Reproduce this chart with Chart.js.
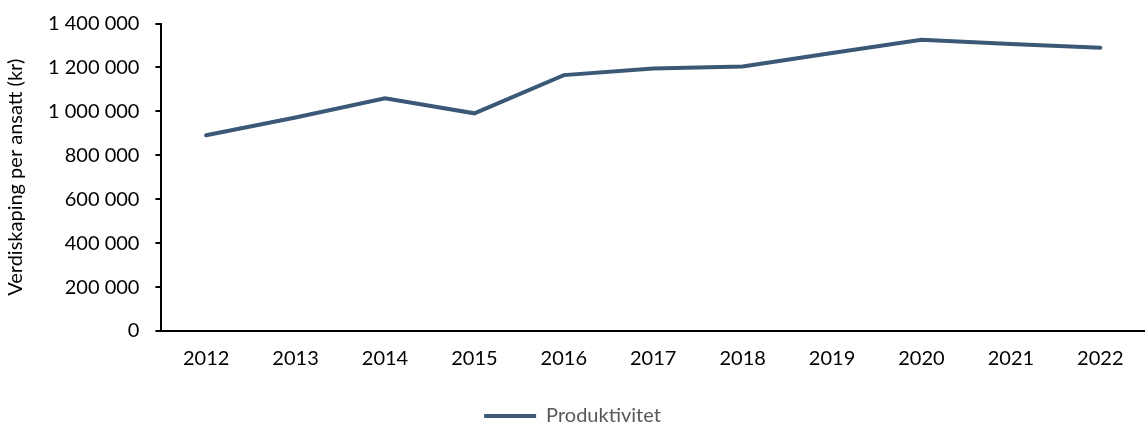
<!DOCTYPE html>
<html>
<head>
<meta charset="utf-8">
<script src="https://cdn.jsdelivr.net/npm/chart.js@4"></script>
<style>
  html, body { margin: 0; padding: 0; background: #fff; width: 1145px; height: 423px; overflow: hidden; }
  #wrap { width: 1145px; height: 436px; }
</style>
</head>
<body>
<div id="wrap"><canvas id="myChart"></canvas></div>
<script>
// data
const years = ['2012', '2013', '2014', '2015', '2016', '2017', '2018', '2019', '2020', '2021', '2022'];
const produktivitet = [891000, 972000, 1059000, 991000, 1165000, 1195000, 1204000, 1266000, 1326000, 1307000, 1290000];
const seriesName = 'Produktivitet';
const yTitle = 'Verdiskaping per ansatt (kr)';

const lineColor = '#3c5877';
const fontFamily = 'Lato, "Open Sans", sans-serif';

// 1400000 -> "1 400 000"
function spaced(v) {
  return v.toString().replace(/\B(?=(\d{3})+(?!\d))/g, ' ');
}

const ctx = document.getElementById('myChart');
new Chart(ctx, {
  type: 'line',
  data: {
    labels: years,
    datasets: [{
      label: seriesName,
      data: produktivitet,
      borderColor: lineColor,
      backgroundColor: lineColor,
      borderWidth: 4,
      pointRadius: 0,
      tension: 0,
      borderCapStyle: 'round'
    }]
  },
  options: {
    responsive: true,
    maintainAspectRatio: false,
    animation: false,
    layout: { padding: { top: 0, right: 0, left: 0, bottom: 0 } },
    plugins: {
      tooltip: { enabled: false },
      legend: {
        position: 'bottom',
        labels: {
          color: '#595959',
          font: { family: fontFamily, size: 20 },
          boxWidth: 52,
          boxHeight: 4,
          padding: 0,
          generateLabels: (chart) => {
            return Chart.defaults.plugins.legend.labels.generateLabels(chart).map(item => {
              item.lineWidth = 0;
              return item;
            });
          }
        }
      }
    },
    scales: {
      x: {
        offset: true,
        grid: { display: false, drawTicks: false },
        border: { display: true, color: '#000', width: 2 },
        ticks: { color: '#000', font: { family: fontFamily, size: 20 }, padding: 16 },
        // extra room between the year labels and the legend
        afterFit: (scale) => { scale.height += 19; }
      },
      y: {
        min: 0,
        max: 1400000,
        grid: { drawOnChartArea: false, drawTicks: true, tickLength: 6, color: '#000', lineWidth: 2 },
        border: { display: true, color: '#000', width: 2 },
        ticks: {
          stepSize: 200000,
          color: '#000',
          font: { family: fontFamily, size: 20, lineHeight: 0.75 },
          padding: 16,
          callback: (v) => spaced(v)
        },
        title: {
          display: true,
          text: yTitle,
          color: '#000',
          font: { family: fontFamily, size: 20 },
          padding: { top: 4, bottom: 4 }
        }
      }
    }
  }
});
</script>
</body>
</html>
